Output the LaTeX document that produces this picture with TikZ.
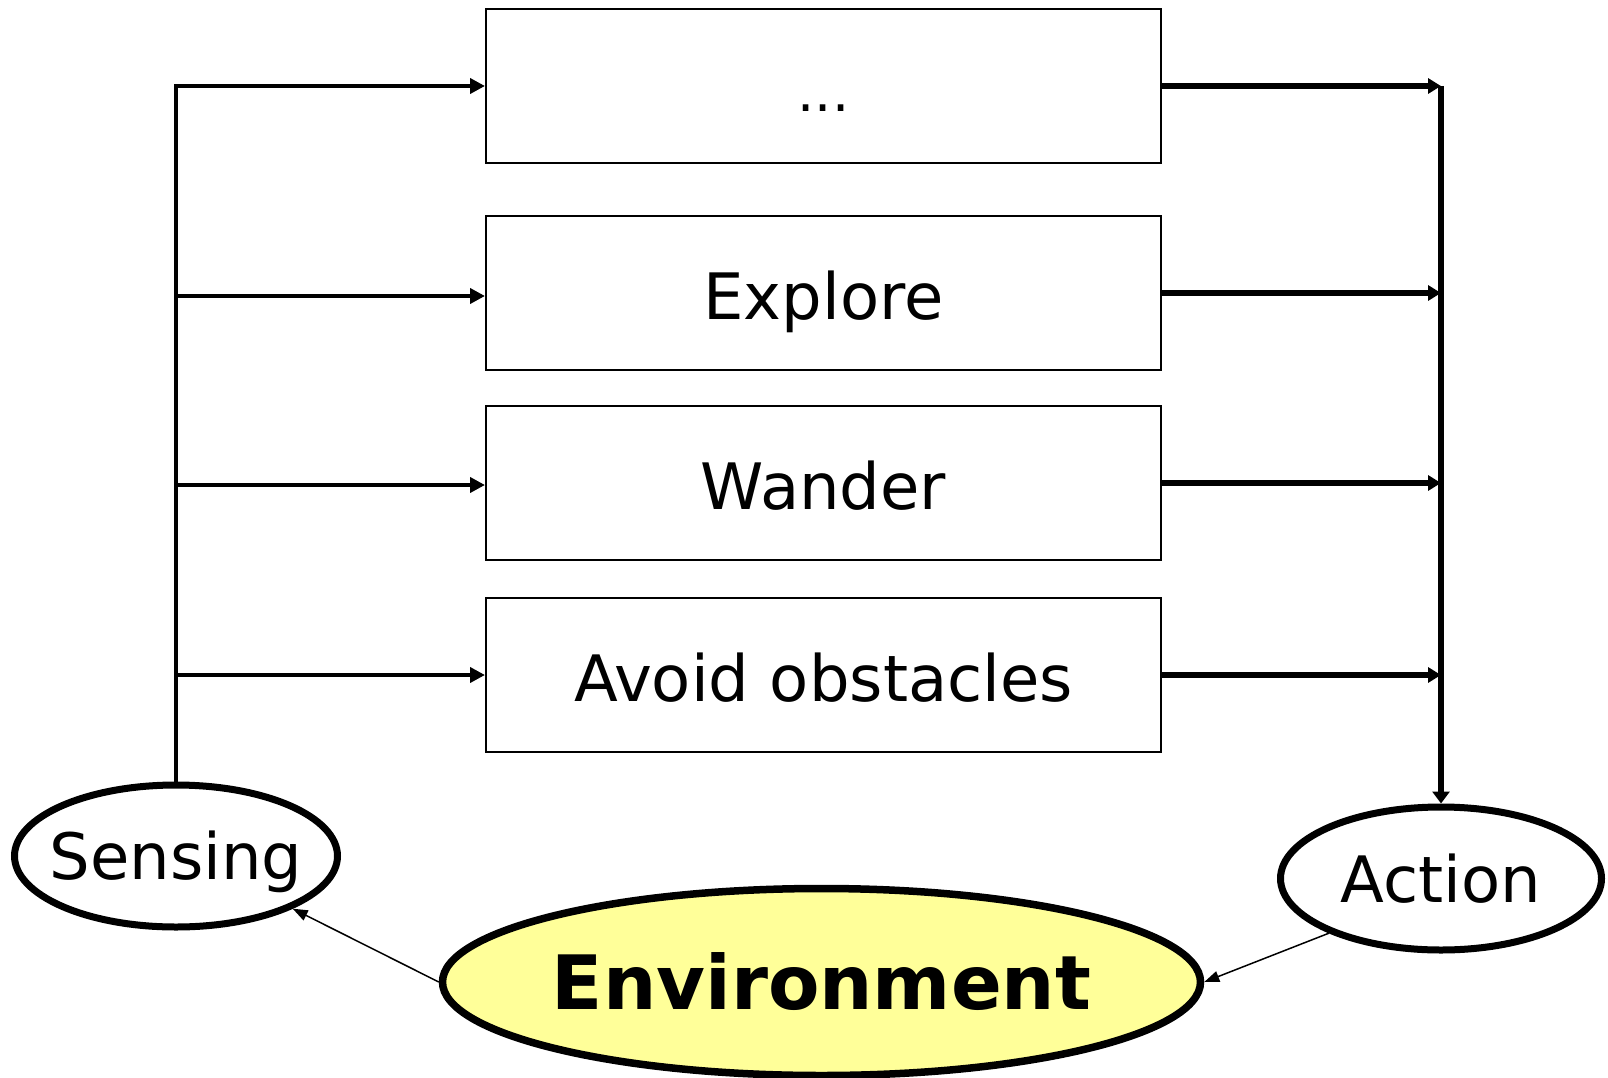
\documentclass[tikz,border=0pt]{standalone}
\usepackage{fontspec}
\setmainfont{DejaVu Sans}
\usetikzlibrary{shapes.geometric,arrows.meta}
\definecolor{envyellow}{RGB}{255,255,153}

\begin{document}
\begin{tikzpicture}[x=1pt,y=-1pt,
        behaviour/.style={draw,line width=2pt,minimum width=675pt,minimum height=154pt,
            inner sep=0pt,text height=52pt,text depth=0pt,font=\fontsize{64}{70}\selectfont},
        blob/.style={ellipse,draw,line width=7pt,inner sep=0pt},
        blobtext/.style={font=\fontsize{64}{70}\selectfont,text height=47pt,text depth=0pt},
        inwire/.style={line width=4.6pt,-{Triangle[length=15pt,width=15pt]}},
        outwire/.style={line width=6pt,-{Triangle[length=13pt,width=15pt]}},
        feed/.style={line width=1.5pt,-{Triangle[length=15pt,width=11pt]}}]
    \useasboundingbox (0,0) rectangle (1608,1078);

    % behaviour layers
    \node[behaviour] (more) at (823.5,86) {\fontsize{54}{60}\selectfont ...};
    \node[behaviour] (explore) at (823.5,293) {Explore};
    \node[behaviour] (wander) at (823.5,483) {Wander};
    \node[behaviour] (avoid) at (823.5,675) {Avoid obstacles};

    % sensing, action, environment
    \node[blob,minimum width=323pt,minimum height=142pt,
        label={[blobtext]center:Sensing}] (sense) at (176,856) {};
    \node[blob,minimum width=321pt,minimum height=143pt,
        label={[blobtext]center:Action}] (act) at (1441,878.5) {};
    \node[blob,fill=envyellow,line width=7.5pt,minimum width=758pt,minimum height=187pt,
        label={[font=\bfseries\fontsize{75}{80}\selectfont,text height=54pt,text depth=0pt]center:Environment}]
        (env) at (821.5,982) {};

    % sensor lines into every layer
    \draw[inwire] (sense.north) |- (more.west);
    \draw[inwire] (176,296) -- (explore.west |- 176,296);
    \draw[inwire] (176,485) -- (wander.west |- 176,485);
    \draw[inwire] (176,675) -- (avoid.west);

    % layer outputs down to action
    \draw[outwire] (more.east) -- (act.north |- more.east);
    \draw[outwire] (explore.east) -- (act.north |- explore.east);
    \draw[outwire] (wander.east) -- (act.north |- wander.east);
    \draw[outwire] (avoid.east) -- (act.north |- avoid.east);
    \draw[line width=5.5pt,-{Triangle[length=12pt,width=17pt]}] (act.north |- more.east) -- (act.north);

    \draw[feed] (env.west) -- (sense.south east);
    \draw[feed] (act.206) -- (env.east);
\end{tikzpicture}
\end{document}
